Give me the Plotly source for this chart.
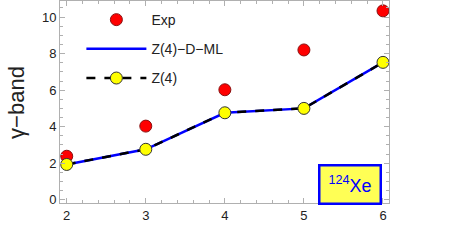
import plotly.graph_objects as go

L = [2, 3, 4, 5, 6]
exp_vals = [2.38, 4.03, 6.02, 8.20, 10.34]
z4dml_vals = [1.93, 2.76, 4.76, 5.00, 7.52]
z4_vals = [1.93, 2.76, 4.76, 5.00, 7.52]

fig = go.Figure()
fig.add_trace(go.Scatter(x=L, y=exp_vals, mode="markers", name="Exp", legendgroup="a",
                         marker=dict(color="#ff0000", size=12, line=dict(color="#8a1010", width=1))))
fig.add_trace(go.Scatter(x=L, y=z4dml_vals, mode="lines", name="Z(4)\u2212D\u2212ML", legendgroup="b",
                         line=dict(color="#0000ff", width=2.5)))
fig.add_trace(go.Scatter(x=L, y=z4_vals, mode="lines+markers", name="Z(4)", legendgroup="c",
                         line=dict(color="black", width=2.5, dash="dash"),
                         marker=dict(color="#ffff00", size=12, line=dict(color="#333333", width=1))))

axis_common = dict(showgrid=False, zeroline=False, showline=True, linecolor="#b0b0b0", linewidth=1,
                   mirror="ticks", ticks="inside", ticklen=5, tickcolor="#b0b0b0",
                   tickfont=dict(family="Liberation Sans, Arial", size=13, color="#222222"))

fig.update_xaxes(range=[1.915, 6.076], tickvals=L, minor=dict(ticks="inside", ticklen=3, dtick=0.2,
                 tickcolor="#b0b0b0"), **axis_common)
fig.update_yaxes(range=[-0.18, 10.88], tickvals=[0, 2, 4, 6, 8, 10],
                 minor=dict(ticks="inside", ticklen=3, dtick=0.5, tickcolor="#b0b0b0"), **axis_common)

fig.add_annotation(x=5.586, y=0.83, xref="x", yref="y", text="<sup>124</sup>Xe", showarrow=False,
                   font=dict(family="Liberation Sans, Arial", size=18, color="#0000ff"),
                   bgcolor="#ffff55", bordercolor="#0000ff", borderwidth=2.5,
                   width=57, height=34)
fig.add_annotation(x=-0.134, y=0.5, xref="paper", yref="paper", text="\u03b3\u2212band", textangle=-90,
                   xanchor="center", yanchor="middle",
                   showarrow=False, font=dict(family="Liberation Sans, Arial", size=22, color="#222222"))
fig.add_annotation(x=0.5, y=-0.26, xref="paper", yref="paper", text="L", showarrow=False,
                   yanchor="top", font=dict(family="Liberation Sans, Arial", size=20, color="#222222"))

fig.update_layout(width=450, height=250, margin=dict(l=60, r=61, t=1, b=47),
                  paper_bgcolor="white", plot_bgcolor="white", showlegend=True,
                  legend=dict(x=0.065, y=0.985, xanchor="left", yanchor="top", bgcolor="rgba(0,0,0,0)",
                              font=dict(family="Liberation Sans, Arial", size=14, color="#222222"),
                              itemwidth=60, tracegroupgap=8))
fig.write_html("out.html")
